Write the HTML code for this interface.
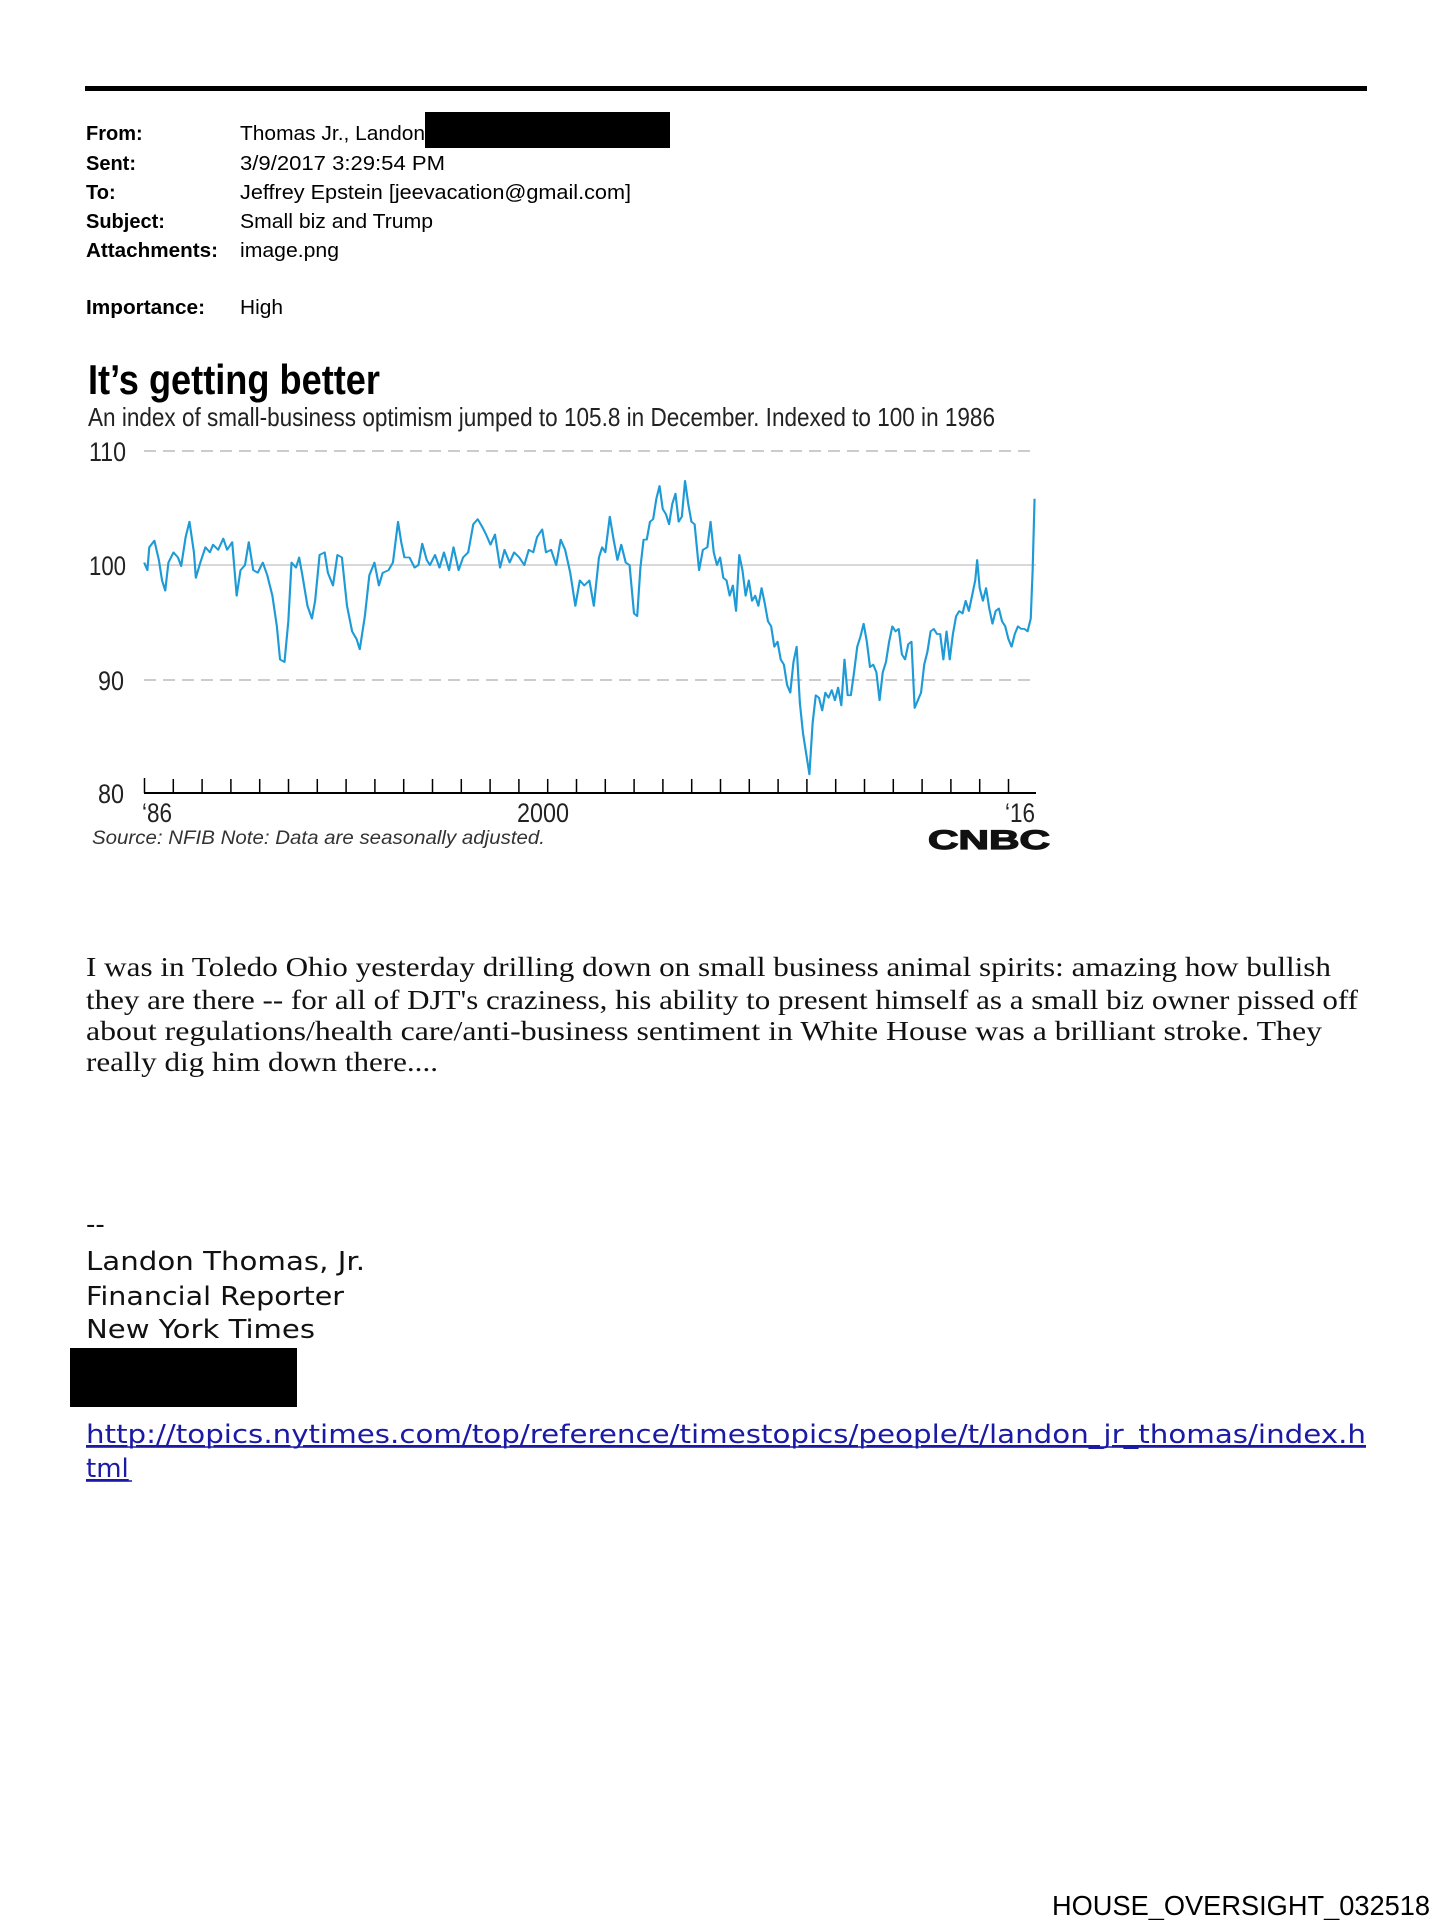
<!DOCTYPE html>
<html><head><meta charset="utf-8"><style>
html,body{margin:0;padding:0;background:#fff;}
svg{display:block;}
</style></head><body>
<svg width="1453" height="1920" viewBox="0 0 1453 1920" xmlns="http://www.w3.org/2000/svg">
<rect width="1453" height="1920" fill="#fff"/>
<rect x="85" y="86" width="1282" height="5" fill="#000"/>
<g font-family="Liberation Sans, DejaVu Sans, sans-serif" font-size="20" fill="#000">
<g font-weight="bold">
<text x="86" y="140">From:</text>
<text x="86" y="170">Sent:</text>
<text x="86" y="199">To:</text>
<text x="86" y="228">Subject:</text>
<text x="86" y="257" textLength="132" lengthAdjust="spacingAndGlyphs">Attachments:</text>
<text x="86" y="314" textLength="119" lengthAdjust="spacingAndGlyphs">Importance:</text>
</g>
<text x="240" y="140" textLength="185" lengthAdjust="spacingAndGlyphs">Thomas Jr., Landon</text>
<text x="240" y="170" textLength="205" lengthAdjust="spacingAndGlyphs">3/9/2017 3:29:54 PM</text>
<text x="240" y="199" textLength="391" lengthAdjust="spacingAndGlyphs">Jeffrey Epstein [jeevacation@gmail.com]</text>
<text x="240" y="228" textLength="193" lengthAdjust="spacingAndGlyphs">Small biz and Trump</text>
<text x="240" y="257" textLength="99" lengthAdjust="spacingAndGlyphs">image.png</text>
<text x="240" y="314" textLength="43" lengthAdjust="spacingAndGlyphs">High</text>
</g>
<rect x="425" y="112" width="245" height="36" fill="#000"/>

<text x="88" y="394" font-family="Liberation Sans, sans-serif" font-weight="bold" font-size="42" textLength="292" lengthAdjust="spacingAndGlyphs">It’s getting better</text>
<text x="88" y="426" font-family="Liberation Sans, sans-serif" font-size="26" fill="#222" textLength="907" lengthAdjust="spacingAndGlyphs">An index of small-business optimism jumped to 105.8 in December. Indexed to 100 in 1986</text>

<g font-family="Liberation Sans, sans-serif" font-size="27" fill="#222">
<text x="89" y="461" textLength="37" lengthAdjust="spacingAndGlyphs">110</text>
<text x="89" y="575" textLength="37" lengthAdjust="spacingAndGlyphs">100</text>
<text x="98" y="690" textLength="26" lengthAdjust="spacingAndGlyphs">90</text>
<text x="98" y="803" textLength="26" lengthAdjust="spacingAndGlyphs">80</text>
<text x="142" y="822" textLength="30" lengthAdjust="spacingAndGlyphs">‘86</text>
<text x="517" y="822" textLength="52" lengthAdjust="spacingAndGlyphs">2000</text>
<text x="1005" y="822" textLength="30" lengthAdjust="spacingAndGlyphs">‘16</text>
</g>
<line x1="144" y1="451" x2="1036" y2="451" stroke="#ccc" stroke-width="2" stroke-dasharray="12,7"/>
<line x1="144" y1="680" x2="1036" y2="680" stroke="#ccc" stroke-width="2" stroke-dasharray="12,7"/>
<line x1="144" y1="565" x2="1036" y2="565" stroke="#ccc" stroke-width="1.5"/>
<line x1="144" y1="793" x2="1036" y2="793" stroke="#000" stroke-width="2"/>
<g stroke="#000" stroke-width="1.5">
<path d="M144.5 778V793 M173.3 779V793 M202.1 779V793 M230.9 779V793 M259.7 779V793 M288.5 779V793 M317.3 779V793 M346.1 779V793 M374.9 779V793 M403.7 779V793 M432.5 779V793 M461.3 779V793 M490.1 779V793 M518.9 779V793 M547.7 779V793 M576.5 779V793 M605.3 779V793 M634.1 779V793 M662.9 779V793 M691.7 779V793 M720.5 779V793 M749.3 779V793 M778.1 779V793 M806.9 779V793 M835.7 779V793 M864.5 779V793 M893.3 779V793 M922.1 779V793 M950.9 779V793 M979.7 779V793 M1008.5 779V793"/>
</g>
<g transform="translate(60,60) scale(0.6378,0.5102)">
<polyline fill="none" stroke="#1e9bd7" stroke-width="3.4" stroke-linejoin="round" points="132,985 137,1000 140,955 148,942 155,980 160,1020 165,1040 170,985 178,965 185,975 190,992 197,935 203,905 210,965 213,1015 220,985 228,955 235,965 240,950 248,960 256,938 262,960 270,945 277,1050 283,1000 290,990 296,945 303,1000 310,1005 318,985 325,1010 333,1050 340,1110 345,1175 352,1180 358,1100 363,985 370,995 375,975 380,1010 388,1070 395,1095 400,1060 407,970 415,965 420,1005 428,1030 435,970 442,975 450,1070 458,1120 465,1135 470,1155 478,1090 485,1010 493,985 500,1030 506,1005 515,1000 522,985 530,905 535,945 540,975 548,975 556,995 562,990 568,948 575,980 580,990 588,970 595,995 602,965 610,1000 617,955 625,1000 632,975 640,965 648,910 655,900 662,915 668,930 675,950 682,930 690,995 697,960 705,985 712,965 720,975 728,990 735,960 742,965 748,935 756,920 762,965 770,960 778,990 785,940 792,960 800,1005 808,1070 815,1020 822,1030 830,1020 837,1070 845,975 850,955 855,965 862,895 868,940 874,980 880,950 887,985 893,990 900,1085 905,1090 910,995 915,940 920,940 925,905 930,900 935,860 940,835 945,880 950,890 955,910 960,870 965,850 970,905 975,895 980,825 985,870 990,905 995,910 1002,1000 1008,960 1015,955 1020,905 1025,965 1030,990 1035,975 1040,1015 1045,1020 1050,1050 1055,1030 1060,1080 1065,970 1070,1000 1075,1050 1080,1020 1085,1060 1090,1050 1095,1070 1100,1035 1105,1065 1110,1100 1115,1110 1120,1150 1125,1140 1130,1175 1135,1185 1140,1225 1145,1240 1150,1180 1155,1150 1160,1260 1165,1320 1170,1360 1175,1400 1180,1300 1185,1245 1190,1250 1195,1275 1200,1240 1205,1250 1210,1235 1215,1255 1220,1230 1225,1265 1230,1175 1235,1245 1240,1245 1245,1200 1250,1150 1255,1130 1260,1105 1265,1140 1270,1190 1275,1185 1280,1200 1285,1255 1290,1200 1295,1180 1300,1140 1305,1110 1310,1120 1315,1115 1320,1165 1325,1175 1330,1145 1335,1140 1340,1270 1345,1255 1350,1240 1355,1185 1360,1160 1365,1120 1370,1115 1375,1125 1380,1125 1385,1175 1390,1120 1395,1175 1400,1125 1405,1090 1410,1080 1415,1085 1420,1060 1425,1080 1430,1050 1435,1020 1438,980 1442,1035 1447,1060 1452,1035 1457,1075 1462,1105 1467,1080 1472,1075 1477,1100 1482,1110 1487,1135 1492,1150 1497,1125 1502,1110 1507,1115 1512,1115 1517,1120 1522,1095 1525,1000 1528,860"/>
</g>
<text x="92" y="844" font-family="Liberation Sans, sans-serif" font-style="italic" font-size="19" fill="#333" textLength="453" lengthAdjust="spacingAndGlyphs">Source: NFIB Note: Data are seasonally adjusted.</text>
<text x="928" y="849" font-family="Liberation Sans, sans-serif" font-weight="900" font-size="27" fill="#111" textLength="122" lengthAdjust="spacingAndGlyphs" stroke="#111" stroke-width="1.2">CNBC</text>

<g font-family="Liberation Serif, serif" font-size="27" fill="#111">
<text x="86" y="976" textLength="1245" lengthAdjust="spacingAndGlyphs">I was in Toledo Ohio yesterday drilling down on small business animal spirits: amazing how bullish</text>
<text x="86" y="1009" textLength="1272" lengthAdjust="spacingAndGlyphs">they are there -- for all of DJT's craziness, his ability to present himself as a small biz owner pissed off</text>
<text x="86" y="1040" textLength="1236" lengthAdjust="spacingAndGlyphs">about regulations/health care/anti-business sentiment in White House was a brilliant stroke. They</text>
<text x="86" y="1071" textLength="352" lengthAdjust="spacingAndGlyphs">really dig him down there....</text>
</g>
<g font-family="DejaVu Sans, Liberation Sans, sans-serif" font-size="26" fill="#111">
<text x="86" y="1233">--</text>
<text x="86" y="1270" textLength="279" lengthAdjust="spacingAndGlyphs">Landon Thomas, Jr.</text>
<text x="86" y="1305" textLength="258" lengthAdjust="spacingAndGlyphs">Financial Reporter</text>
<text x="86" y="1338" textLength="229" lengthAdjust="spacingAndGlyphs">New York Times</text>
<text x="86" y="1443" fill="#1a1aa6" text-decoration="underline" textLength="1280" lengthAdjust="spacingAndGlyphs">http://topics.nytimes.com/top/reference/timestopics/people/t/landon_jr_thomas/index.h</text>
<text x="86" y="1477" fill="#1a1aa6" text-decoration="underline">tml</text>
</g>
<line x1="86" y1="1447" x2="1366" y2="1447" stroke="#1a1aa6" stroke-width="1.5"/>
<line x1="86" y1="1481" x2="132" y2="1481" stroke="#1a1aa6" stroke-width="1.5"/>
<rect x="70" y="1348" width="227" height="59" fill="#000"/>
<text x="1052" y="1915" font-family="Liberation Sans, sans-serif" font-size="28" fill="#000" textLength="378" lengthAdjust="spacingAndGlyphs">HOUSE_OVERSIGHT_032518</text>
</svg>
</body></html>
